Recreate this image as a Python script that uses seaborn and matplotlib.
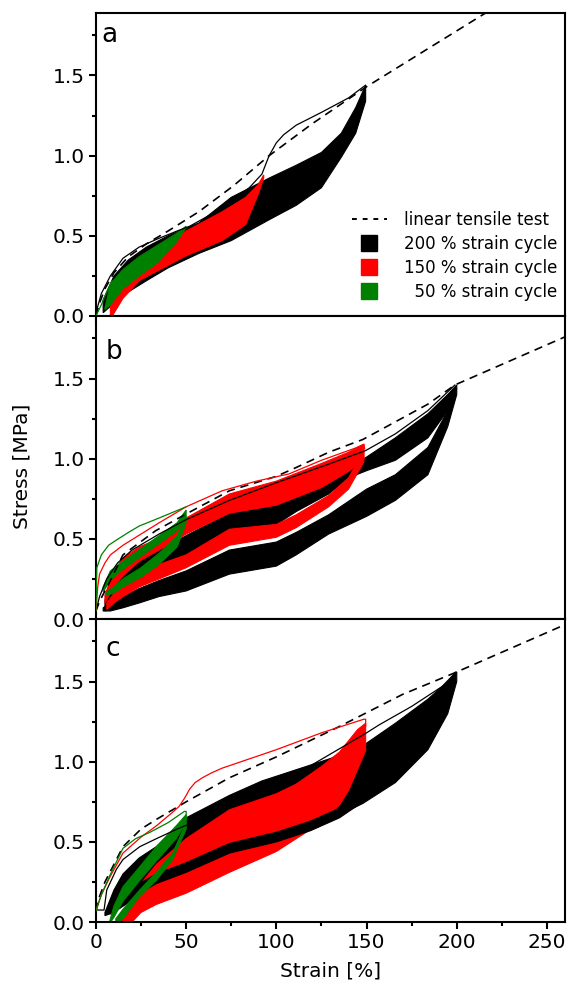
"""Stress-strain curves of three samples: linear tensile test vs. cyclic loading."""
import matplotlib

matplotlib.use("Agg")
import matplotlib.pyplot as plt
import numpy as np
import seaborn as sns
from matplotlib.lines import Line2D
from matplotlib.ticker import FormatStrFormatter, MultipleLocator

BLACK = "#000000"
RED = "#ff0000"
GREEN = "#008000"

# ---- panel a -------------------------------------------------------------
A_DASH_X = [0, 2, 5, 10, 18, 28, 40, 57, 76, 96, 120, 150, 216, 262]
A_DASH_Y = [0, 0.08, 0.17, 0.27, 0.37, 0.45, 0.53, 0.65, 0.81, 1.00, 1.20, 1.43, 1.89, 2.20]
A_BLACK_LINE_X = [0, 1, 3, 8, 15, 24, 34, 45, 52, 60, 70, 85, 92, 96, 100, 104, 111, 125, 140, 149.5]
A_BLACK_LINE_Y = [0, 0.06, 0.14, 0.25, 0.36, 0.43, 0.48, 0.53, 0.56, 0.61, 0.67, 0.80, 0.885, 1.0, 1.08, 1.13, 1.19, 1.27, 1.36, 1.44]
A_GREEN_LINE_X = [0, 3, 6, 9]
A_GREEN_LINE_Y = [0, 0.07, 0.15, 0.22]
A_BLACK_X = [4, 10, 18, 28, 40, 57, 75, 96, 111, 125, 136, 144, 149.5]
A_BLACK_HI = [0.10, 0.25, 0.35, 0.43, 0.50, 0.58, 0.74, 0.86, 0.94, 1.02, 1.14, 1.30, 1.44]
A_BLACK_LO = [0.02, 0.08, 0.15, 0.22, 0.30, 0.39, 0.47, 0.60, 0.69, 0.80, 0.99, 1.14, 1.34]
A_RED_X = [8, 15, 24, 34, 50, 70, 83, 90, 93]
A_RED_HI = [0.10, 0.25, 0.35, 0.42, 0.53, 0.65, 0.74, 0.82, 0.88]
A_RED_LO = [-0.02, 0.11, 0.22, 0.28, 0.375, 0.47, 0.57, 0.76, 0.86]
A_GREEN_X = [5, 8, 15, 24, 34, 44, 50]
A_GREEN_HI = [0.05, 0.20, 0.29, 0.37, 0.44, 0.51, 0.56]
A_GREEN_LO = [0.04, 0.07, 0.17, 0.25, 0.33, 0.45, 0.55]

# ---- panel b -------------------------------------------------------------
B_DASH_X = [0, 2, 8, 15, 33, 50, 74, 100, 111, 129, 148, 166, 184, 199, 258, 262]
B_DASH_Y = [0.05, 0.11, 0.24, 0.40, 0.55, 0.655, 0.80, 0.89, 0.945, 1.04, 1.12, 1.23, 1.34, 1.46, 1.75, 1.77]
B_BLACK_LINE_X = [0, 2, 6, 12, 20, 35, 50, 74, 100, 130, 149.4, 166, 184, 199]
B_BLACK_LINE_Y = [0.05, 0.14, 0.25, 0.35, 0.43, 0.53, 0.62, 0.74, 0.85, 0.97, 1.05, 1.155, 1.30, 1.46]
B_RED_LINE_X = [0, 1, 2, 5, 8, 15, 25, 35, 50, 70, 89, 107, 125, 144, 148.5, 149]
B_RED_LINE_Y = [0.05, 0.20, 0.28, 0.35, 0.40, 0.46, 0.53, 0.60, 0.70, 0.80, 0.86, 0.905, 0.99, 1.067, 1.09, 1.06]
B_GREEN_LINE_X = [0, 0.5, 3, 7, 11, 18, 24, 35, 50]
B_GREEN_LINE_Y = [0.05, 0.32, 0.40, 0.46, 0.49, 0.54, 0.58, 0.63, 0.70]
B_BLACK_UP_X = [5, 10, 15, 24, 35, 50, 74, 100, 111, 129, 140, 150, 166, 184, 195, 200]
B_BLACK_UP_HI = [0.12, 0.20, 0.27, 0.36, 0.43, 0.52, 0.66, 0.71, 0.78, 0.86, 0.95, 1.01, 1.13, 1.28, 1.40, 1.46]
B_BLACK_UP_LO = [0.05, 0.12, 0.18, 0.26, 0.32, 0.40, 0.56, 0.59, 0.67, 0.78, 0.88, 0.925, 0.99, 1.13, 1.30, 1.44]
B_BLACK_DN_X = [4, 8, 15, 24, 35, 50, 74, 100, 111, 129, 150, 166, 184, 195, 200]
B_BLACK_DN_HI = [0.07, 0.10, 0.14, 0.19, 0.24, 0.30, 0.43, 0.48, 0.54, 0.65, 0.81, 0.90, 1.07, 1.30, 1.44]
B_BLACK_DN_LO = [0.05, 0.05, 0.07, 0.10, 0.14, 0.175, 0.28, 0.33, 0.40, 0.53, 0.64, 0.74, 0.90, 1.20, 1.40]
B_RED_UP_X = [5, 10, 15, 24, 35, 50, 74, 100, 125, 140, 148.5]
B_RED_UP_HI = [0.15, 0.30, 0.38, 0.45, 0.50, 0.63, 0.78, 0.86, 0.97, 1.04, 1.09]
B_RED_UP_LO = [0.10, 0.20, 0.27, 0.36, 0.43, 0.53, 0.66, 0.71, 0.82, 0.92, 1.00]
B_RED_DN_X = [6, 10, 15, 24, 35, 50, 74, 100, 111, 129, 140, 148.5]
B_RED_DN_HI = [0.10, 0.16, 0.22, 0.28, 0.34, 0.40, 0.56, 0.59, 0.65, 0.77, 0.88, 1.05]
B_RED_DN_LO = [0.06, 0.10, 0.14, 0.20, 0.25, 0.32, 0.46, 0.51, 0.57, 0.70, 0.81, 0.98]
B_GREEN_UP_X = [4, 8, 15, 25, 35, 45, 50]
B_GREEN_UP_HI = [0.20, 0.30, 0.36, 0.44, 0.52, 0.60, 0.68]
B_GREEN_UP_LO = [0.17, 0.24, 0.31, 0.39, 0.47, 0.55, 0.64]
B_GREEN_DN_X = [6, 10, 15, 25, 35, 45, 50]
B_GREEN_DN_HI = [0.17, 0.20, 0.25, 0.32, 0.41, 0.52, 0.64]
B_GREEN_DN_LO = [0.15, 0.16, 0.20, 0.26, 0.34, 0.45, 0.60]

# ---- panel c -------------------------------------------------------------
C_DASH_X = [0, 2, 5, 10, 15, 25, 33.5, 50, 74, 100, 135, 170, 199, 258, 262]
C_DASH_Y = [0.07, 0.16, 0.25, 0.36, 0.47, 0.58, 0.64, 0.75, 0.90, 1.03, 1.22, 1.42, 1.555, 1.845, 1.86]
C_BLACK_LINE_X = [0, 4.5, 6, 11.4, 15, 24.3, 33.5, 45, 60, 100, 150, 157, 175, 192, 199.6]
C_BLACK_LINE_Y = [0.075, 0.075, 0.20, 0.33, 0.39, 0.47, 0.52, 0.58, 0.65, 0.85, 1.18, 1.23, 1.345, 1.47, 1.56]
C_RED_LINE_X = [0, 3, 7.7, 15, 25, 33.5, 42, 46, 49, 52, 55, 59, 64, 70, 100, 125, 148.5, 149.5, 149.5]
C_RED_LINE_Y = [0.07, 0.17, 0.28, 0.43, 0.53, 0.60, 0.68, 0.72, 0.77, 0.83, 0.87, 0.90, 0.93, 0.96, 1.075, 1.18, 1.265, 1.265, 1.22]
C_GREEN_LINE_X = [0, 3, 7.7, 15, 22, 30, 40, 49, 50, 50]
C_GREEN_LINE_Y = [0.07, 0.17, 0.29, 0.46, 0.52, 0.56, 0.62, 0.69, 0.69, 0.64]
C_BLACK_UP_X = [5, 10, 15, 24, 33.5, 50, 74, 92, 111, 130, 148, 166, 184, 195, 200]
C_BLACK_UP_HI = [0.06, 0.20, 0.30, 0.40, 0.47, 0.65, 0.79, 0.88, 0.95, 1.02, 1.10, 1.24, 1.39, 1.50, 1.56]
C_BLACK_UP_LO = [0.04, 0.06, 0.10, 0.16, 0.22, 0.30, 0.42, 0.48, 0.56, 0.64, 0.74, 0.87, 1.075, 1.30, 1.50]
C_RED_X = [14, 20, 25, 33.5, 50, 74, 100, 111, 125, 135, 140, 145, 149.5]
C_RED_HI = [0.05, 0.14, 0.24, 0.36, 0.52, 0.70, 0.80, 0.86, 0.97, 1.06, 1.13, 1.20, 1.24]
C_RED_LO = [-0.02, 0.0, 0.06, 0.11, 0.18, 0.31, 0.44, 0.52, 0.62, 0.73, 0.82, 0.95, 1.07]
C_BLACK_DN_X = [8, 15, 24, 33.5, 50, 74, 100, 119, 135, 148]
C_BLACK_DN_HI = [0.08, 0.14, 0.24, 0.30, 0.37, 0.49, 0.56, 0.63, 0.71, 0.81]
C_BLACK_DN_LO = [0.05, 0.10, 0.18, 0.24, 0.31, 0.43, 0.50, 0.57, 0.65, 0.75]
C_GREEN_UP_X = [7, 10, 15, 24.3, 33.5, 44.5, 50]
C_GREEN_UP_HI = [-0.02, 0.10, 0.22, 0.345, 0.47, 0.60, 0.67]
C_GREEN_UP_LO = [-0.02, 0.03, 0.13, 0.26, 0.38, 0.52, 0.62]
C_GREEN_DN_X = [11, 15, 24.3, 33.5, 42.6, 50]
C_GREEN_DN_HI = [0.02, 0.08, 0.20, 0.31, 0.43, 0.62]
C_GREEN_DN_LO = [-0.02, 0.02, 0.16, 0.26, 0.39, 0.58]

LEGEND_LABELS = ["linear tensile test", "200 % strain cycle",
                 "150 % strain cycle", "  50 % strain cycle"]
PANEL_LETTERS = ["a", "b", "c"]


def band(ax, x, hi, lo, color):
    x = np.asarray(x, float)
    ax.fill(np.r_[x, x[::-1]], np.r_[hi, lo[::-1]], color=color,
            ec=color, lw=0.8, zorder=2)


def line(ax, x, y, color, ls="-", lw=0.9):
    sns.lineplot(x=x, y=y, sort=False, estimator=None, color=color,
                 linestyle=ls, linewidth=lw, ax=ax, zorder=3)


sns.set_style("ticks", {"axes.edgecolor": "black", "xtick.color": "black",
                        "ytick.color": "black", "text.color": "black",
                        "axes.labelcolor": "black"})
plt.rcParams["font.family"] = ["DejaVu Sans"]
plt.rcParams["font.size"] = 14.5

fig = plt.figure(figsize=(5.71, 9.89), dpi=100)
axes = fig.subplots(3, 1, sharex=True)
fig.subplots_adjust(left=0.168, right=0.9895, bottom=0.0677, top=0.9869, hspace=0)
ax_a, ax_b, ax_c = axes
DASH = (0, (5, 3.5))

# panel a
band(ax_a, A_BLACK_X, A_BLACK_HI, A_BLACK_LO, BLACK)
band(ax_a, A_RED_X, A_RED_HI, A_RED_LO, RED)
band(ax_a, A_GREEN_X, A_GREEN_HI, A_GREEN_LO, GREEN)
line(ax_a, A_DASH_X, A_DASH_Y, BLACK, DASH, 1.2)
line(ax_a, A_BLACK_LINE_X, A_BLACK_LINE_Y, BLACK)
line(ax_a, A_GREEN_LINE_X, A_GREEN_LINE_Y, GREEN)

# panel b
band(ax_b, B_BLACK_DN_X, B_BLACK_DN_HI, B_BLACK_DN_LO, BLACK)
band(ax_b, B_BLACK_UP_X, B_BLACK_UP_HI, B_BLACK_UP_LO, BLACK)
band(ax_b, B_RED_DN_X, B_RED_DN_HI, B_RED_DN_LO, RED)
band(ax_b, B_RED_UP_X, B_RED_UP_HI, B_RED_UP_LO, RED)
band(ax_b, B_GREEN_DN_X, B_GREEN_DN_HI, B_GREEN_DN_LO, GREEN)
band(ax_b, B_GREEN_UP_X, B_GREEN_UP_HI, B_GREEN_UP_LO, GREEN)
line(ax_b, B_DASH_X, B_DASH_Y, BLACK, DASH, 1.2)
line(ax_b, B_BLACK_LINE_X, B_BLACK_LINE_Y, BLACK)
line(ax_b, B_RED_LINE_X, B_RED_LINE_Y, RED)
line(ax_b, B_GREEN_LINE_X, B_GREEN_LINE_Y, GREEN)

# panel c
band(ax_c, C_BLACK_UP_X, C_BLACK_UP_HI, C_BLACK_UP_LO, BLACK)
band(ax_c, C_RED_X, C_RED_HI, C_RED_LO, RED)
band(ax_c, C_BLACK_DN_X, C_BLACK_DN_HI, C_BLACK_DN_LO, BLACK)
band(ax_c, C_GREEN_DN_X, C_GREEN_DN_HI, C_GREEN_DN_LO, GREEN)
band(ax_c, C_GREEN_UP_X, C_GREEN_UP_HI, C_GREEN_UP_LO, GREEN)
line(ax_c, C_DASH_X, C_DASH_Y, BLACK, DASH, 1.2)
line(ax_c, C_BLACK_LINE_X, C_BLACK_LINE_Y, BLACK)
line(ax_c, C_RED_LINE_X, C_RED_LINE_Y, RED)
line(ax_c, C_GREEN_LINE_X, C_GREEN_LINE_Y, GREEN)

letter_pos = [(0.012, 0.904), (0.021, 0.858), (0.021, 0.878)]
for ax, letter, (lx, ly) in zip(axes, PANEL_LETTERS, letter_pos):
    ax.set_xlim(0, 260)
    ax.set_ylim(0, 1.89)
    ax.xaxis.set_major_locator(MultipleLocator(50))
    ax.xaxis.set_minor_locator(MultipleLocator(25))
    ax.yaxis.set_major_locator(MultipleLocator(0.5))
    ax.yaxis.set_minor_locator(MultipleLocator(0.25))
    ax.yaxis.set_major_formatter(FormatStrFormatter("%.1f"))
    ax.tick_params(which="major", direction="out", length=5, width=1.5,
                   labelsize=14.5, pad=3)
    ax.tick_params(which="minor", direction="out", length=3, width=1.5)
    ax.tick_params(which="both", top=False, right=False)
    for sp in ax.spines.values():
        sp.set_visible(True)
        sp.set_linewidth(1.5)
    ax.set_xlabel("")
    ax.set_ylabel("")
    ax.text(lx, ly, letter, transform=ax.transAxes, fontsize=19,
            ha="left", va="baseline")

handles = [
    Line2D([], [], color=BLACK, linestyle=(0, (2.5, 3)), linewidth=1.4),
    Line2D([], [], color=BLACK, marker="s", linestyle="none", markersize=11),
    Line2D([], [], color=RED, marker="s", linestyle="none", markersize=11),
    Line2D([], [], color=GREEN, marker="s", linestyle="none", markersize=11),
]
ax_a.legend(handles, LEGEND_LABELS, loc="lower right", frameon=False,
            fontsize=12, handlelength=2.1, handletextpad=1.0,
            labelspacing=0.35, borderaxespad=0.08,
            bbox_to_anchor=(1.0, 0.024))

fig.text(0.0385, 0.528, "Stress [MPa]", rotation=90, ha="center",
         va="center", fontsize=14.5)
fig.text(0.579, 0.018, "Strain [%]", ha="center", va="center", fontsize=14.5)

fig.savefig("out.png", dpi=100)
